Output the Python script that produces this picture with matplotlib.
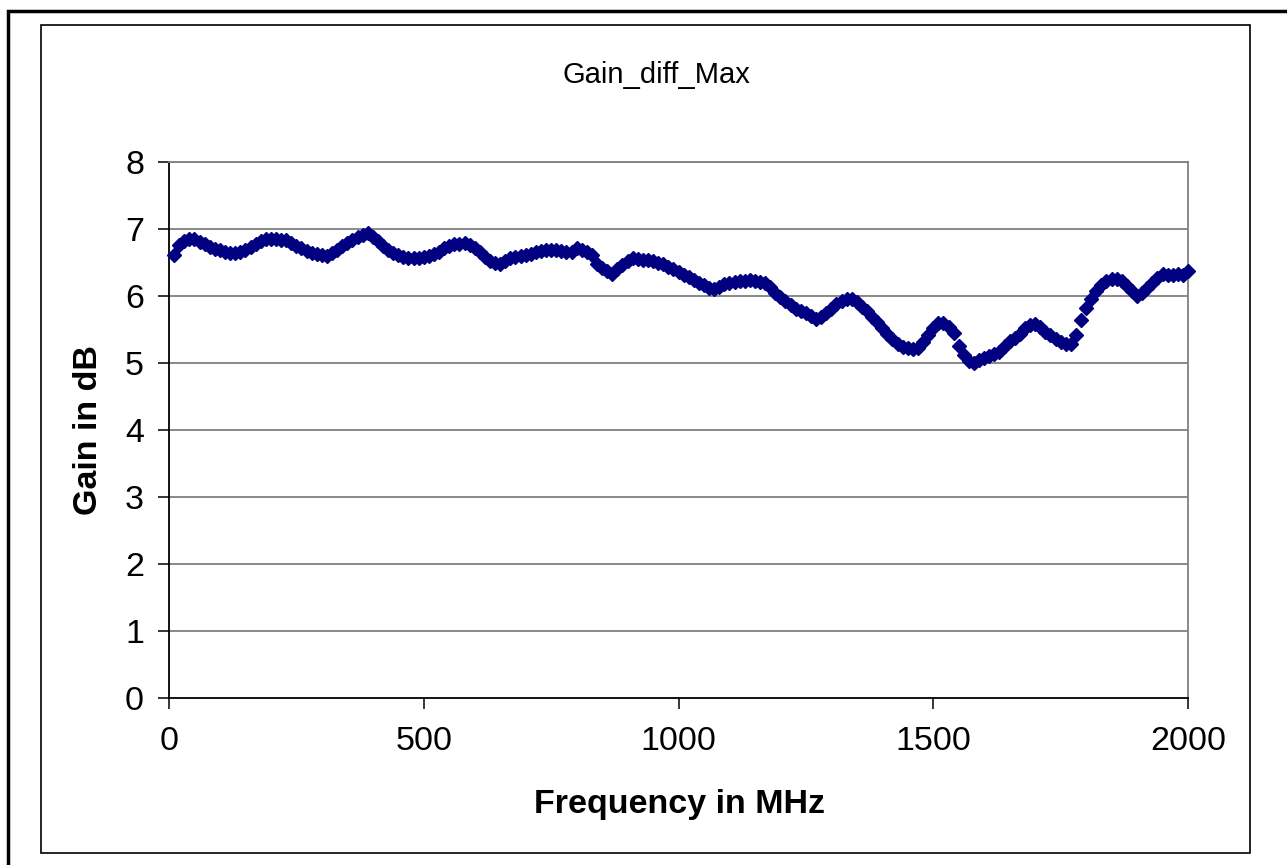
import matplotlib
matplotlib.use("Agg")
import matplotlib.pyplot as plt
from matplotlib.patches import Rectangle

plt.rcParams['font.family'] = ['Liberation Sans', 'DejaVu Sans']

# Frequency in MHz (10 MHz steps)
freq_mhz = list(range(10, 2001, 10))

# Gain in dB
gain_db = [
    6.61, 6.76, 6.82, 6.85, 6.85, 6.81, 6.77, 6.73, 6.70, 6.68,   # 10-100
    6.65, 6.64, 6.64, 6.66, 6.69, 6.73, 6.78, 6.82, 6.85, 6.85,   # 110-200
    6.85, 6.84, 6.83, 6.79, 6.75, 6.71, 6.67, 6.64, 6.62, 6.61,   # 210-300
    6.60, 6.64, 6.69, 6.74, 6.79, 6.84, 6.88, 6.91, 6.94, 6.88,   # 310-400
    6.82, 6.75, 6.69, 6.64, 6.61, 6.58, 6.57, 6.56, 6.56, 6.58,   # 410-500
    6.60, 6.63, 6.66, 6.71, 6.75, 6.77, 6.78, 6.79, 6.76, 6.72,   # 510-600
    6.65, 6.58, 6.52, 6.49, 6.48, 6.52, 6.56, 6.58, 6.59, 6.61,   # 610-700
    6.63, 6.65, 6.67, 6.68, 6.68, 6.68, 6.67, 6.66, 6.66, 6.72,   # 710-800
    6.68, 6.65, 6.61, 6.48, 6.42, 6.38, 6.33, 6.40, 6.46, 6.52,   # 810-900
    6.56, 6.55, 6.54, 6.53, 6.52, 6.50, 6.48, 6.44, 6.40, 6.36,   # 910-1000
    6.32, 6.28, 6.24, 6.20, 6.16, 6.12, 6.10, 6.14, 6.18, 6.20,   # 1010-1100
    6.21, 6.22, 6.23, 6.24, 6.23, 6.21, 6.19, 6.13, 6.05, 5.99,   # 1110-1200
    5.92, 5.86, 5.81, 5.78, 5.74, 5.70, 5.66, 5.69, 5.74, 5.81,   # 1210-1300
    5.88, 5.93, 5.95, 5.95, 5.91, 5.84, 5.77, 5.69, 5.61, 5.52,   # 1310-1400
    5.43, 5.36, 5.28, 5.24, 5.22, 5.21, 5.23, 5.32, 5.42, 5.52,   # 1410-1500
    5.60, 5.60, 5.54, 5.45, 5.26, 5.12, 5.03, 5.00, 5.04, 5.08,   # 1510-1600
    5.11, 5.14, 5.16, 5.26, 5.33, 5.38, 5.44, 5.52, 5.57, 5.58,   # 1610-1700
    5.53, 5.47, 5.42, 5.36, 5.31, 5.28, 5.29, 5.42, 5.64, 5.82,   # 1710-1800
    5.96, 6.08, 6.17, 6.23, 6.26, 6.26, 6.22, 6.15, 6.07, 6.00,   # 1810-1900
    6.05, 6.12, 6.20, 6.27, 6.33, 6.31, 6.32, 6.33, 6.32, 6.37,   # 1910-2000
]

x_ticks = [0, 500, 1000, 1500, 2000]
y_ticks = [0, 1, 2, 3, 4, 5, 6, 7, 8]

W, H = 1287, 865
fig = plt.figure(figsize=(W / 100, H / 100), dpi=100)
fig.patch.set_facecolor('white')

# Outer frame (right / bottom edges fall outside the image)
fig.add_artist(Rectangle((8 / W, -0.2), 1.5, 1.2 - 11 / H,
                         transform=fig.transFigure, fill=False,
                         edgecolor='black', linewidth=2.5))
# Inner chart-area border
fig.add_artist(Rectangle((41 / W, 1 - 853 / H), (1250 - 41) / W, (853 - 25) / H,
                         transform=fig.transFigure, fill=False,
                         edgecolor='black', linewidth=1.2))

ax = fig.add_axes([169 / W, 1 - 698 / H, (1188 - 169) / W, (698 - 162) / H])
ax.set_facecolor('white')

for yv in y_ticks[1:]:
    ax.axhline(yv, color='#808080', linewidth=1.3, zorder=1)

ax.plot(freq_mhz, gain_db, linestyle='none', marker='D', markersize=6.8,
        color='#000080', markeredgecolor='#000080', zorder=3, clip_on=False)

ax.set_xlim(0, 2000)
ax.set_ylim(0, 8)
ax.set_xticks(x_ticks)
ax.set_yticks(y_ticks)
ax.tick_params(direction='out', length=8, width=1.1, labelsize=24.5, color='black')
ax.tick_params(axis='x', pad=12)
ax.tick_params(axis='y', pad=10)

for s in ['left', 'bottom']:
    ax.spines[s].set_color('black')
    ax.spines[s].set_linewidth(1.3)
for s in ['top', 'right']:
    ax.spines[s].set_color('#808080')
    ax.spines[s].set_linewidth(1.3)

fig.text(656 / W, 1 - 75 / H, 'Gain_diff_Max', fontsize=21, ha='center', va='center')
fig.text(679 / W, 1 - 805 / H, 'Frequency in MHz', fontsize=24.5, fontweight='bold',
         ha='center', va='center')
fig.text(88 / W, 1 - 430 / H, 'Gain in dB', fontsize=24.5, fontweight='bold',
         ha='center', va='center', rotation=90)

fig.savefig('out.png', dpi=100, facecolor='white')
